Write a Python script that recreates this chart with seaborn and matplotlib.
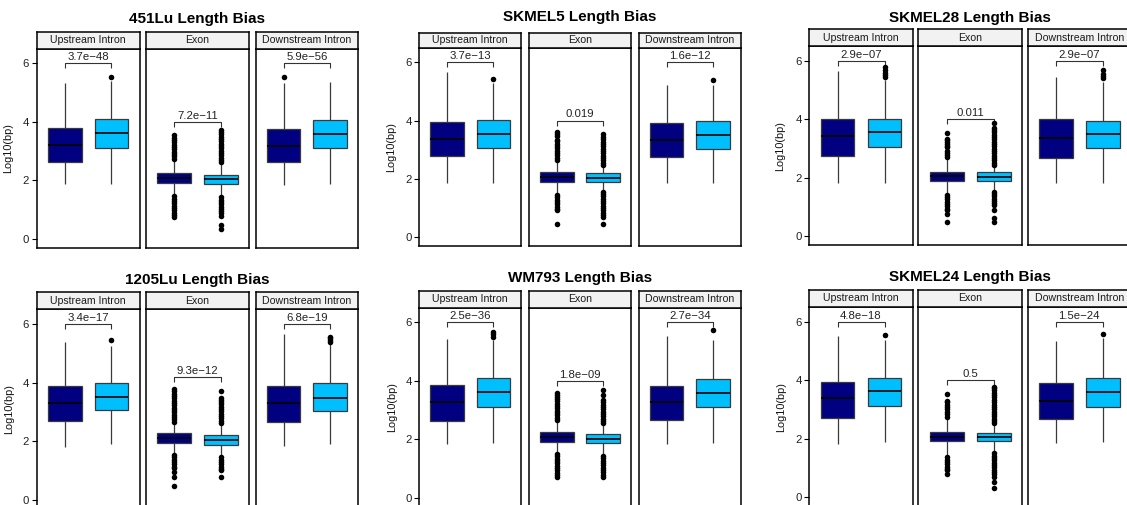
import numpy as np
import pandas as pd
import matplotlib
matplotlib.use("Agg")
import matplotlib.pyplot as plt
import seaborn as sns

# ---------------- data ----------------
cell_lines = ["451Lu", "SKMEL5", "SKMEL28", "1205Lu", "WM793", "SKMEL24"]
regions = ["Upstream Intron", "Exon", "Downstream Intron"]
groups = ["Group A", "Group B"]
group_colors = ["#000080", "#00BFFF"]

# (lower whisker, Q1, median, Q3, upper whisker) per region x group
box_451Lu = [
    [[1.87, 2.62, 3.22, 3.80, 5.34], [1.87, 3.12, 3.62, 4.09, 5.40]],
    [[1.50, 1.92, 2.08, 2.25, 2.70], [1.45, 1.88, 2.04, 2.19, 2.58]],
    [[1.84, 2.62, 3.19, 3.77, 5.32], [1.87, 3.10, 3.59, 4.06, 5.37]],
]
box_SKMEL5 = [
    [[1.85, 2.77, 3.36, 3.94, 5.65], [1.85, 3.07, 3.53, 4.02, 5.28]],
    [[1.50, 1.90, 2.06, 2.23, 2.60], [1.60, 1.90, 2.04, 2.19, 2.44]],
    [[1.85, 2.74, 3.34, 3.91, 5.22], [1.85, 3.04, 3.50, 3.97, 5.22]],
]
box_SKMEL28 = [
    [[1.83, 2.73, 3.42, 4.00, 5.67], [1.83, 3.06, 3.55, 4.02, 5.35]],
    [[1.46, 1.89, 2.05, 2.21, 2.68], [1.56, 1.89, 2.03, 2.18, 2.39]],
    [[1.83, 2.69, 3.37, 4.00, 5.44], [1.81, 3.01, 3.49, 3.95, 5.29]],
]
box_1205Lu = [
    [[1.82, 2.70, 3.32, 3.90, 5.37], [1.90, 3.07, 3.52, 3.98, 5.26]],
    [[1.58, 1.94, 2.11, 2.27, 2.62], [1.50, 1.88, 2.05, 2.20, 2.58]],
    [[1.85, 2.67, 3.30, 3.89, 5.66], [1.90, 3.05, 3.49, 3.98, 5.31]],
]
box_WM793 = [
    [[1.83, 2.63, 3.29, 3.86, 5.43], [1.86, 3.11, 3.63, 4.08, 5.40]],
    [[1.54, 1.91, 2.07, 2.24, 2.62], [1.47, 1.86, 2.02, 2.17, 2.50]],
    [[1.83, 2.66, 3.26, 3.83, 5.54], [1.86, 3.11, 3.57, 4.06, 5.40]],
]
box_SKMEL24 = [
    [[1.81, 2.70, 3.40, 3.95, 5.52], [1.88, 3.12, 3.63, 4.09, 5.37]],
    [[1.41, 1.92, 2.07, 2.24, 2.72], [1.54, 1.92, 2.07, 2.21, 2.49]],
    [[1.84, 2.66, 3.30, 3.89, 5.34], [1.88, 3.07, 3.61, 4.06, 5.43]],
]

# outlier values per region x group
out_451Lu = [
    [[], [5.54]],
    [[2.74, 2.82, 2.90, 2.98, 3.06, 3.14, 3.22, 3.30, 3.38, 3.46, 3.54,
      1.46, 1.38, 1.30, 1.22, 1.14, 1.06, 0.98, 0.90, 0.82, 0.74],
     [2.62, 2.70, 2.78, 2.86, 2.94, 3.02, 3.10, 3.18, 3.26, 3.34, 3.42, 3.50, 3.58, 3.66, 3.72,
      1.42, 1.34, 1.26, 1.18, 1.10, 1.02, 0.95, 0.88, 0.80, 0.48, 0.33]],
    [[5.52], []],
]
out_SKMEL5 = [
    [[], [5.43]],
    [[2.65, 2.73, 2.81, 2.89, 2.97, 3.05, 3.13, 3.21, 3.29, 3.34, 3.47, 3.55, 3.62,
      1.45, 1.37, 1.29, 1.21, 1.13, 1.05, 0.97, 0.94, 0.46],
     [2.48, 2.56, 2.64, 2.72, 2.80, 2.88, 2.96, 3.04, 3.12, 3.20, 3.28, 3.36, 3.44, 3.54,
      1.56, 1.48, 1.40, 1.32, 1.24, 1.16, 1.08, 1.00, 0.92, 0.84, 0.76, 0.71, 0.46]],
    [[], [5.39]],
]
out_SKMEL28 = [
    [[], [5.45, 5.52, 5.60, 5.70, 5.81]],
    [[2.72, 2.78, 2.84, 2.90, 3.04, 3.10, 3.16, 3.22, 3.28, 3.32, 3.52,
      1.42, 1.34, 1.26, 1.18, 1.10, 1.02, 0.94, 0.89, 0.75, 0.48],
     [2.43, 2.51, 2.59, 2.67, 2.75, 2.83, 2.91, 2.99, 3.07, 3.15, 3.23, 3.31, 3.39, 3.47,
      3.55, 3.63, 3.69, 3.86,
      1.52, 1.44, 1.36, 1.28, 1.20, 1.12, 1.06, 0.89, 0.61, 0.49]],
    [[], [5.42, 5.48, 5.55, 5.69]],
]
out_1205Lu = [
    [[], [5.44]],
    [[2.67, 2.75, 2.83, 2.91, 2.99, 3.07, 3.15, 3.23, 3.31, 3.39, 3.47, 3.55, 3.63, 3.70, 3.78,
      1.54, 1.46, 1.38, 1.30, 1.22, 1.14, 1.08, 0.97, 0.80, 0.48],
     [2.62, 2.70, 2.78, 2.86, 2.94, 3.02, 3.10, 3.18, 3.26, 3.34, 3.42, 3.47, 3.70,
      1.46, 1.38, 1.30, 1.22, 1.14, 1.06, 1.02, 0.80]],
    [[], [5.38, 5.45, 5.52, 5.57]],
]
out_WM793 = [
    [[], [5.51, 5.60, 5.68]],
    [[2.66, 2.74, 2.82, 2.90, 2.98, 3.06, 3.14, 3.22, 3.30, 3.38, 3.46, 3.52, 3.57,
      1.50, 1.42, 1.34, 1.26, 1.18, 1.10, 1.02, 0.94, 0.86, 0.78, 0.72],
     [2.54, 2.62, 2.70, 2.78, 2.86, 2.94, 3.02, 3.10, 3.18, 3.26, 3.34, 3.51, 3.68,
      1.43, 1.35, 1.27, 1.19, 1.11, 1.03, 0.95, 0.87, 0.79, 0.72]],
    [[], [5.74]],
]
out_SKMEL24 = [
    [[], [5.53]],
    [[2.76, 2.84, 2.92, 3.00, 3.08, 3.16, 3.24, 3.29, 3.53,
      1.37, 1.29, 1.21, 1.13, 1.05, 0.97, 0.93, 0.79],
     [2.53, 2.61, 2.69, 2.77, 2.85, 2.93, 3.01, 3.09, 3.17, 3.25, 3.33, 3.41, 3.49, 3.57,
      3.65, 3.72, 3.78,
      1.50, 1.42, 1.34, 1.26, 1.18, 1.10, 1.02, 0.94, 0.86, 0.78, 0.70, 0.52, 0.31]],
    [[], [5.58]],
]

pval_451Lu = ["3.7e\u221248", "7.2e\u221211", "5.9e\u221256"]
pval_SKMEL5 = ["3.7e\u221213", "0.019", "1.6e\u221212"]
pval_SKMEL28 = ["2.9e\u221207", "0.011", "2.9e\u221207"]
pval_1205Lu = ["3.4e\u221217", "9.3e\u221212", "6.8e\u221219"]
pval_WM793 = ["2.5e\u221236", "1.8e\u221209", "2.7e\u221234"]
pval_SKMEL24 = ["4.8e\u221218", "0.5", "1.5e\u221224"]

bracket_451Lu = [6.0, 4.0, 6.0]
bracket_SKMEL5 = [6.0, 4.0, 6.0]
bracket_SKMEL28 = [6.0, 4.0, 6.0]
bracket_1205Lu = [6.0, 4.2, 6.0]
bracket_WM793 = [6.0, 4.0, 6.0]
bracket_SKMEL24 = [6.0, 4.0, 6.0]

y_ticks = [0, 2, 4, 6]

boxes = [box_451Lu, box_SKMEL5, box_SKMEL28, box_1205Lu, box_WM793, box_SKMEL24]
outs = [out_451Lu, out_SKMEL5, out_SKMEL28, out_1205Lu, out_WM793, out_SKMEL24]
pvals = [pval_451Lu, pval_SKMEL5, pval_SKMEL28, pval_1205Lu, pval_WM793, pval_SKMEL24]
brackets = [bracket_451Lu, bracket_SKMEL5, bracket_SKMEL28, bracket_1205Lu, bracket_WM793, bracket_SKMEL24]

# ---------------- layout (pixels) ----------------
W, H = 1127, 505
panel_left = [36.7, 419.3, 809.3, 36.7, 419.3, 809.3]
facet_w = [102.8, 102.0, 103.4, 102.8, 102.0, 103.4]
facet_gap = [6.6, 7.7, 5.7, 6.6, 7.7, 5.7]
zero_px = [239.0, 237.3, 236.0, 500.0, 497.7, 497.3]
unit_px = [29.28, 29.17, 29.17, 29.33, 29.23, 29.27]
strip_h = [17.0, 15.0, 17.0, 17.0, 17.0, 17.5]
title_px = [19.0, 17.5, 18.3, 280.0, 277.7, 276.7]
ylabel_px = [12.7, 396.0, 785.0, 14.0, 396.7, 786.0]
YMIN, YMAX = -0.31, 6.5

plt.rcParams["font.family"] = ["Liberation Sans", "DejaVu Sans"]
fig = plt.figure(figsize=(W / 100, H / 100), dpi=100)


def frac_rect(x0, y_top, w, h):
    return [x0 / W, 1 - (y_top + h) / H, w / W, h / H]


for p, cl in enumerate(cell_lines):
    u = unit_px[p]
    ax_top = zero_px[p] - YMAX * u
    ax_h = (YMAX - YMIN) * u
    for r, reg in enumerate(regions):
        x0 = panel_left[p] + r * (facet_w[p] + facet_gap[p])
        ax = fig.add_axes(frac_rect(x0, ax_top, facet_w[p], ax_h))
        rows = []
        for g, grp in enumerate(groups):
            for v in boxes[p][r][g]:
                rows.append({"group": grp, "value": v})
        df = pd.DataFrame(rows)
        sns.boxplot(data=df, x="group", y="value", hue="group", order=groups,
                    hue_order=groups, palette=group_colors, saturation=1,
                    width=0.72, whis=np.inf, showfliers=False,
                    linecolor="#3a3a3a", linewidth=0.9, legend=False, ax=ax,
                    medianprops={"color": "black", "linewidth": 1.2},
                    capprops={"visible": False})
        orows = []
        for g, grp in enumerate(groups):
            for v in outs[p][r][g]:
                orows.append({"group": grp, "value": v})
        if orows:
            odf = pd.DataFrame(orows)
            sns.stripplot(data=odf, x="group", y="value", order=groups,
                          jitter=False, color="black", size=4.0, linewidth=0,
                          ax=ax, zorder=5)
        xpos = list(ax.get_xticks())
        ax.set_xlim(-0.6, 1.6)
        ax.set_ylim(YMIN, YMAX)
        # bracket with p value
        by = brackets[p][r]
        d = 0.17
        ax.plot([xpos[0], xpos[0], xpos[1], xpos[1]], [by - d, by, by, by - d],
                color="#333333", lw=0.8, solid_capstyle="butt")
        ax.text((xpos[0] + xpos[1]) / 2, by + 0.04, pvals[p][r], ha="center",
                va="bottom", fontsize=8.2, color="#222222")
        ax.set_xlabel("")
        ax.set_ylabel("")
        ax.tick_params(axis="x", bottom=False, labelbottom=False)
        for s in ax.spines.values():
            s.set_visible(True)
            s.set_color("black")
            s.set_linewidth(1.1)
        if r == 0:
            ax.set_yticks(y_ticks)
            ax.set_yticklabels([str(t) for t in y_ticks])
            ax.tick_params(axis="y", length=3.5, width=0.8, color="black",
                           labelsize=8.2, labelcolor="#222222", pad=2)
            ax.set_ylabel("Log10(bp)", fontsize=7.8, color="#111111")
            ax.yaxis.set_label_coords((ylabel_px[p] - x0) / facet_w[p], 0.5)
        else:
            ax.tick_params(axis="y", left=False, labelleft=False)
        # strip
        sax = fig.add_axes(frac_rect(x0, ax_top - strip_h[p], facet_w[p], strip_h[p]))
        sax.set_facecolor("#F2F2F2")
        sax.set_xticks([])
        sax.set_yticks([])
        for s in sax.spines.values():
            s.set_color("black")
            s.set_linewidth(1.1)
        sax.text(0.5, 0.5, reg, ha="center", va="center", fontsize=7.6,
                 color="#1a1a1a", transform=sax.transAxes)
    # title
    left_edge = panel_left[p]
    right_edge = panel_left[p] + 3 * facet_w[p] + 2 * facet_gap[p]
    fig.text(((left_edge + right_edge) / 2) / W, 1 - title_px[p] / H,
             f"{cl} Length Bias", ha="center", va="center", fontsize=11,
             fontweight="bold", color="black")

fig.savefig("out.png", dpi=100)
